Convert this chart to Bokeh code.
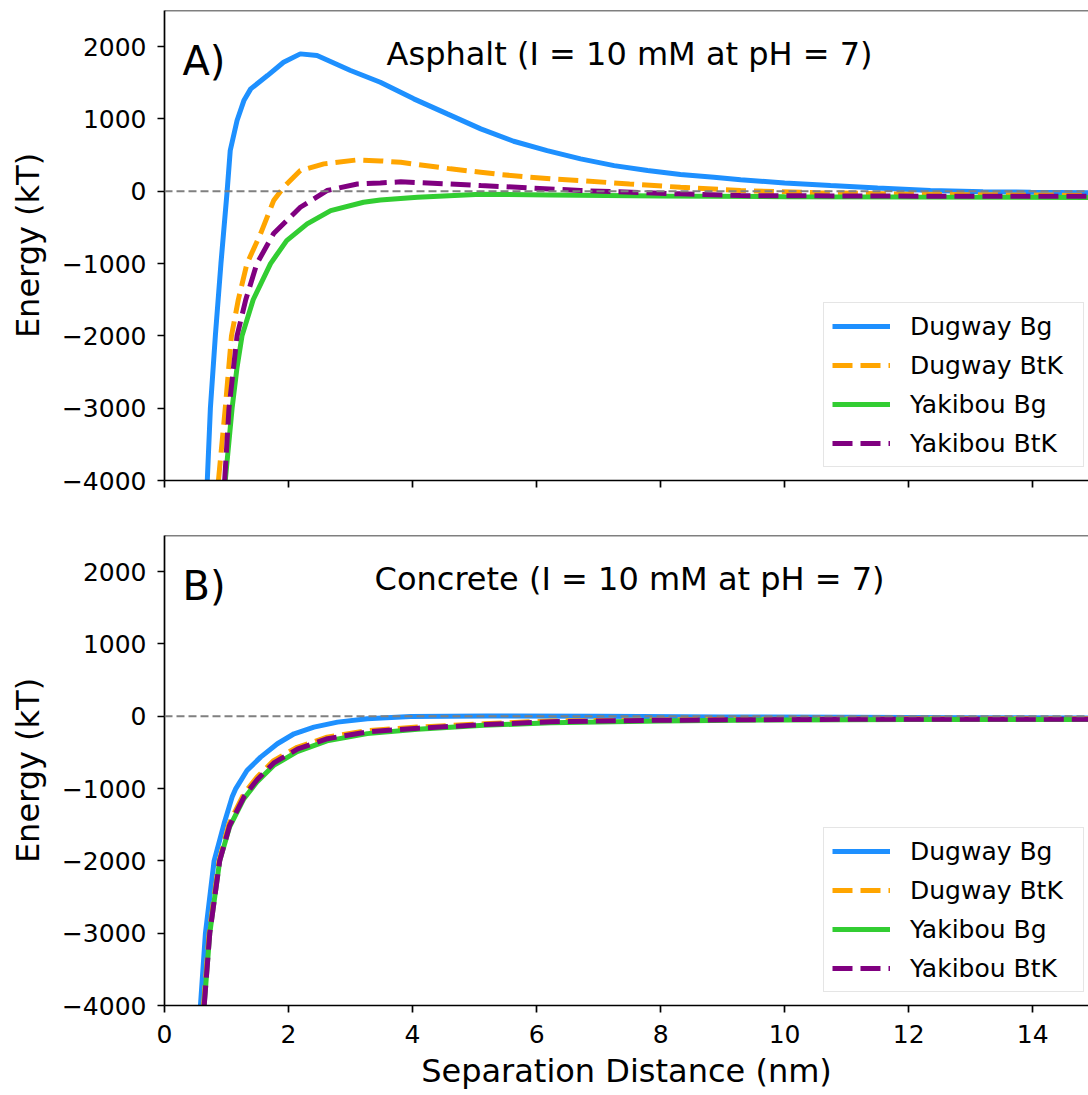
from bokeh.plotting import figure
from bokeh.models import Span, Label, FixedTicker, CustomJSTickFormatter, Range1d
from bokeh.layouts import column
from bokeh.embed import file_html
from bokeh.resources import INLINE

FONT = "DejaVu Sans"

SERIES = ["Dugway Bg", "Dugway BtK", "Yakibou Bg", "Yakibou BtK"]
COLORS = ["#1E90FF", "#FFA500", "#32CD32", "#800080"]
DASHES = ["solid", "20 8", "solid", "20 8"]

X_TICKS = [0, 2, 4, 6, 8, 10, 12, 14]
Y_TICKS = [-4000, -3000, -2000, -1000, 0, 1000, 2000]

# ---- Panel A: Asphalt ----
asph_dug_bg_x = [0.69, 0.74, 0.82, 0.91, 1.01, 1.06, 1.17, 1.28, 1.39, 1.66, 1.92, 2.19, 2.46, 3.0,
                 3.48, 4.02, 4.56, 5.10, 5.63, 6.17, 6.71, 7.25, 7.79, 8.32, 8.86, 9.29, 10.0,
                 10.74, 11.5, 12.35, 13.2, 13.97, 14.9]
asph_dug_bg_y = [-4000, -3000, -2000, -1000, 0, 563, 978, 1254, 1416, 1600, 1784, 1900, 1877, 1670,
                 1508, 1278, 1070, 863, 692, 563, 448, 355, 286, 231, 194, 158, 115,
                 79, 45, 12, -5, -14, -20]

asph_dug_btk_x = [0.87, 0.98, 1.08, 1.19, 1.33, 1.55, 1.76, 1.92, 2.19, 2.57, 3.11, 3.48, 3.81,
                  4.61, 5.1, 5.42, 6.23, 6.71, 7.5, 8.32, 9.29, 10.5, 12.0, 13.5, 14.9]
asph_dug_btk_y = [-4000, -3000, -2000, -1500, -1000, -585, -129, 55, 286, 379, 434, 420, 401,
                  310, 263, 231, 171, 148, 100, 55, 10, -20, -40, -50, -55]

asph_yak_bg_x = [0.98, 1.09, 1.17, 1.25, 1.43, 1.71, 1.97, 2.30, 2.68, 3.21, 3.48, 4.08, 5.1,
                 6.23, 8.0, 10.0, 12.0, 14.9]
asph_yak_bg_y = [-4000, -3000, -2434, -2000, -1500, -1000, -682, -451, -267, -152, -120, -83, -40,
                 -50, -65, -75, -80, -85]

asph_yak_btk_x = [0.97, 1.04, 1.17, 1.31, 1.49, 1.76, 2.19, 2.62, 3.11, 3.48, 3.81, 4.61, 5.1,
                  5.69, 6.71, 8.32, 9.29, 11.0, 13.0, 14.9]
asph_yak_btk_y = [-4000, -3000, -2000, -1500, -1000, -585, -221, 10, 101, 116, 130, 101, 79,
                  55, 10, -36, -60, -65, -70, -70]

# ---- Panel B: Concrete ----
conc_dug_bg_x = [0.58, 0.66, 0.80, 0.96, 1.09, 1.15, 1.33, 1.55, 1.82, 2.09, 2.41, 2.79, 3.27,
                 3.97, 5.2, 7.0, 9.0, 11.0, 13.0, 14.9]
conc_dug_bg_y = [-4000, -3000, -2000, -1487, -1118, -1000, -750, -565, -380, -242, -150, -81, -35,
                 -3, 5, 0, -10, -15, -20, -25]

conc_dug_btk_x = [0.63, 0.72, 0.88, 1.04, 1.28, 1.49, 1.76, 2.14, 2.62, 3.27, 4.08, 5.15, 6.23,
                  8.0, 10.0, 12.0, 14.9]
conc_dug_btk_y = [-4000, -3000, -2000, -1487, -1073, -843, -613, -429, -290, -198, -150, -104, -65,
                  -50, -40, -35, -35]

conc_yak_bg_x = [0.64, 0.73, 0.89, 1.05, 1.28, 1.49, 1.76, 2.14, 2.62, 3.27, 4.08, 5.15, 6.23,
                 8.0, 10.0, 12.0, 14.9]
conc_yak_bg_y = [-4000, -3000, -2000, -1530, -1140, -910, -680, -490, -340, -240, -180, -125, -90,
                 -65, -50, -45, -45]

conc_yak_btk_x = [0.64, 0.73, 0.89, 1.05, 1.29, 1.50, 1.77, 2.15, 2.63, 3.28, 4.09, 5.16, 6.24,
                  8.0, 10.0, 12.0, 14.9]
conc_yak_btk_y = [-4000, -3000, -2000, -1510, -1100, -870, -640, -450, -310, -215, -165, -115, -75,
                  -55, -45, -40, -40]

X_RANGE = (0, 14.9)
Y_RANGE = (-4000, 2500)


def make_panel(letter, title, data, bottom, top_border):
    p = figure(frame_width=924, frame_height=470,
               x_range=Range1d(*X_RANGE), y_range=Range1d(*Y_RANGE),
               output_backend="svg", toolbar_location=None,
               min_border_left=164, min_border_right=0,
               min_border_top=top_border, min_border_bottom=25)
    p.outline_line_color = None
    p.background_fill_color = "white"
    p.border_fill_color = "white"
    p.xgrid.visible = False
    p.ygrid.visible = False

    for (xs, ys), name, col, dash in zip(data, SERIES, COLORS, DASHES):
        p.line(xs, ys, line_color=col, line_width=5, line_dash=dash, legend_label=name)

    p.add_layout(Span(location=0, dimension="width", line_color="gray",
                      line_width=2, line_dash="8 4"))
    p.add_layout(Span(location=Y_RANGE[1], dimension="width", line_color="black",
                      line_width=1.7))

    p.add_layout(Label(x=0.29, y=1795, text=letter, text_font=FONT, text_font_size="40px",
                       text_baseline="alphabetic", text_color="black"))
    p.add_layout(Label(x=7.5, y=1901, text=title, text_font=FONT, text_font_size="32px",
                       text_align="center", text_baseline="alphabetic", text_color="black"))

    for ax in (p.xaxis[0], p.yaxis[0]):
        ax.axis_line_width = 1.7
        ax.axis_line_color = "black"
        ax.major_tick_line_width = 1.7
        ax.major_tick_line_color = "black"
        ax.major_tick_out = 7
        ax.major_tick_in = 0
        ax.minor_tick_out = 0
        ax.minor_tick_in = 0
        ax.major_label_text_font = FONT
        ax.major_label_text_font_size = "25px"
        ax.major_label_text_color = "black"
        ax.axis_label_text_font = FONT
        ax.axis_label_text_font_size = "32px"
        ax.axis_label_text_font_style = "normal"
        ax.axis_label_text_color = "black"

    p.xaxis.ticker = FixedTicker(ticks=X_TICKS)
    p.yaxis.ticker = FixedTicker(ticks=Y_TICKS)
    p.yaxis.formatter = CustomJSTickFormatter(
        code="return tick < 0 ? '\\u2212' + Math.abs(tick) : String(tick);")
    p.yaxis.axis_label = "Energy (kT)"
    p.yaxis.major_label_standoff = 11
    p.yaxis.axis_label_standoff = 12

    if bottom:
        p.xaxis.axis_label = "Separation Distance (nm)"
        p.xaxis.major_label_standoff = 12
        p.xaxis.axis_label_standoff = 6
    else:
        p.xaxis.formatter = CustomJSTickFormatter(code="return '';")
        p.xaxis.major_label_standoff = 0

    lg = p.legend[0]
    lg.location = (659, 13)
    lg.margin = 0
    lg.padding = 8
    lg.spacing = 9
    lg.glyph_width = 58
    lg.glyph_height = 30
    lg.label_height = 30
    lg.label_width = 165
    lg.label_standoff = 20
    lg.label_text_font = FONT
    lg.label_text_font_size = "25px"
    lg.label_text_color = "black"
    lg.border_line_color = "#cccccc"
    lg.border_line_width = 1.7
    lg.background_fill_color = "white"
    lg.background_fill_alpha = 0.8
    return p


pA = make_panel("A)", "Asphalt (I = 10 mM at pH = 7)",
                [(asph_dug_bg_x, asph_dug_bg_y), (asph_dug_btk_x, asph_dug_btk_y),
                 (asph_yak_bg_x, asph_yak_bg_y), (asph_yak_btk_x, asph_yak_btk_y)],
                bottom=False, top_border=10)
pB = make_panel("B)", "Concrete (I = 10 mM at pH = 7)",
                [(conc_dug_bg_x, conc_dug_bg_y), (conc_dug_btk_x, conc_dug_btk_y),
                 (conc_yak_bg_x, conc_yak_bg_y), (conc_yak_btk_x, conc_yak_btk_y)],
                bottom=True, top_border=30)

layout = column(pA, pB, spacing=0)
open("out.html", "w", encoding="utf-8").write(file_html(layout, INLINE))
